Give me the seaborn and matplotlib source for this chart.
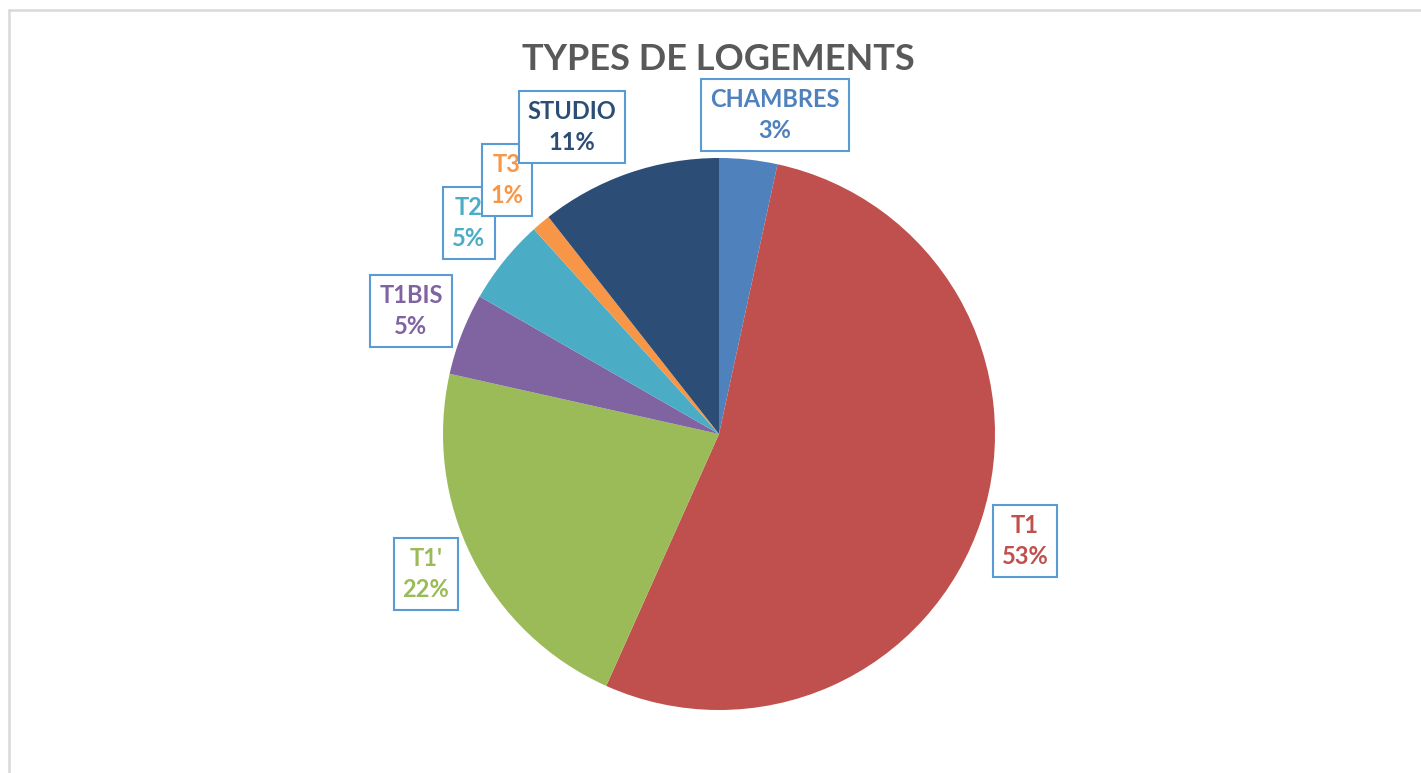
import matplotlib
matplotlib.use('Agg')
import matplotlib.pyplot as plt
from matplotlib.lines import Line2D
import seaborn as sns

# ── Data ──────────────────────────────────────────────
types  = ['CHAMBRES', 'T1', "T1'", 'T1BIS', 'T2', 'T3', 'STUDIO']
shares = [3.4, 53.3, 21.8, 4.8, 5.0, 1.1, 10.6]
title  = 'TYPES DE LOGEMENTS'

# ── Style ─────────────────────────────────────────────
colors = ['#4F81BD', '#C0504D', '#9BBB59', '#8064A2', '#4BACC6', '#F79646', '#2C4D75']
W, H   = 1421, 773          # canvas, px
CX, CY = 719, 434           # pie centre, px
R      = 276                # pie radius, px
# label box centres, px
label_pos = {
    'CHAMBRES': (775, 115),
    'T1':       (1025, 541),
    "T1'":      (426, 574),
    'T1BIS':    (411, 311),
    'T2':       (469, 223),
    'T3':       (507, 180),
    'STUDIO':   (572, 127),
}

sns.set_theme(style='white')
plt.rcParams['font.family'] = ['Lato', 'DejaVu Sans']
palette = sns.color_palette(colors)

fig = plt.figure(figsize=(W / 100, H / 100), dpi=100)
ax = fig.add_axes([0, 0, 1, 1])

ax.pie(shares, colors=palette, startangle=90, counterclock=False,
       wedgeprops=dict(linewidth=0))
ax.set_aspect('auto')
ax.set_xlim(-CX / R, (W - CX) / R)
ax.set_ylim(-(H - CY) / R, CY / R)
ax.axis('off')

def to_data(px, py):
    return (px - CX) / R, (CY - py) / R

for name, share, col in zip(types, shares, palette):
    x, y = to_data(*label_pos[name])
    ax.text(x, y, f"{name}\n{share:.0f}%", ha='center', va='center',
            color=col, fontsize=17, fontweight='bold', linespacing=1.45,
            bbox=dict(boxstyle='square,pad=0.38', fc='white', ec='#5B9BD5', lw=1.5))

fig.text(718.5 / W, 1 - 70 / H, title, ha='center', va='baseline',
         fontsize=26, fontweight='bold', color='#595959')

# chart frame (left and top edges visible)
fig.add_artist(Line2D([9 / W, 9 / W], [0, 1 - 10 / H], color='#D9D9D9', lw=1.8))
fig.add_artist(Line2D([9 / W, 1], [1 - 10 / H, 1 - 10 / H], color='#D9D9D9', lw=1.8))

fig.savefig('out.png', dpi=100, facecolor='white')
